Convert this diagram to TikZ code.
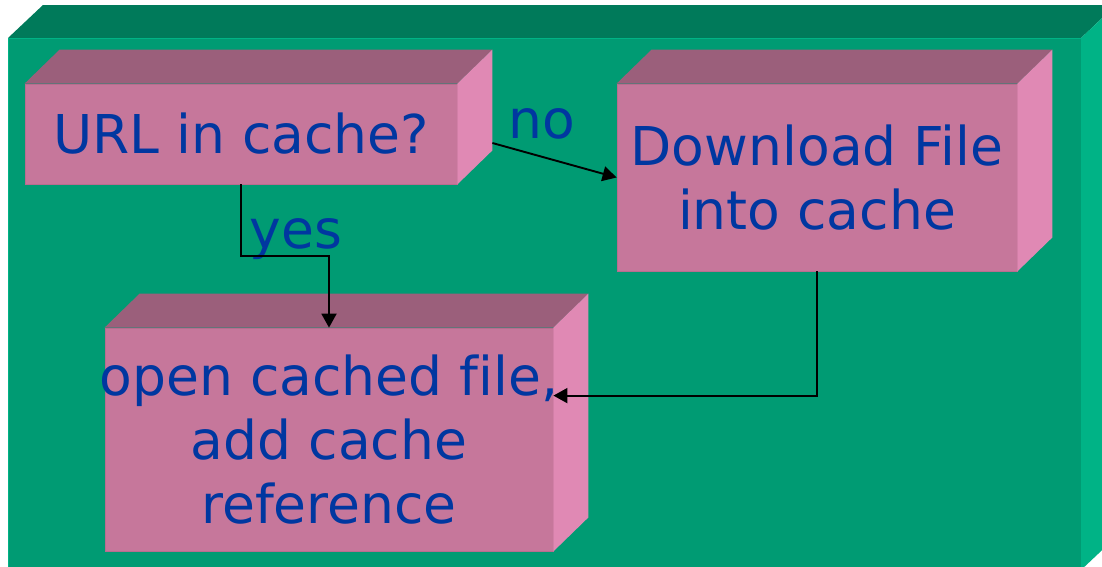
\documentclass[tikz,border=0pt]{standalone}
\usepackage{fontspec}
\setmainfont[Ligatures=CommonOff]{DejaVu Sans}
\usetikzlibrary{arrows.meta}
\definecolor{gtop}{HTML}{007A5A}
\definecolor{gfront}{HTML}{009B73}
\definecolor{gside}{HTML}{00B386}
\definecolor{ptop}{HTML}{9B5F7B}
\definecolor{pfront}{HTML}{C6779B}
\definecolor{pside}{HTML}{E089B4}
\definecolor{pedge}{HTML}{B86D8F}
\definecolor{tblue}{HTML}{0037A0}
\tikzset{
  boxfront/.style={fill=pfront, draw=pedge, line width=0.8pt, inner sep=0pt, rectangle},
  boxtop/.style={fill=ptop},
  boxside/.style={fill=pside},
  lbl/.style={text=tblue, font=\fontsize{53.5}{64}\selectfont, align=center, inner sep=0pt},
  conn/.style={line width=1.9pt, -{Triangle[length=14pt,width=15pt]}},
}
\begin{document}
\begin{tikzpicture}[x=1pt,y=-1pt]
\useasboundingbox (0,0) rectangle (1102,566);
\fill[white] (0,0) rectangle (1102,566);
% outer green cuboid
\fill[gfront] (8,38) rectangle (1081,570);
\fill[gtop] (8,38) -- (43,5) -- (1116,5) -- (1081,38) -- cycle;
\fill[gside] (1081,38) -- (1116,5) -- (1116,537) -- (1081,570) -- cycle;
\draw[gside, line width=1pt] (8.5,38) -- (8.5,570);
\draw[gside, line width=1pt] (8,38.5) -- (1081,38.5);
% pink boxes (front faces)
\node[boxfront, minimum width=432pt, minimum height=100pt] (b1) at (241,134) {};
\node[boxfront, minimum width=400pt, minimum height=187pt] (b2) at (817,177.5) {};
\node[boxfront, minimum width=448pt, minimum height=223pt] (b3) at (329,439.5) {};
\foreach \b in {b1,b2,b3}{
  \fill[boxtop] (\b.north west) -- ++(35,-34) -- ([shift={(35,-34)}]\b.north east) -- (\b.north east) -- cycle;
  \fill[boxside] (\b.north east) -- ++(35,-34) -- ([shift={(35,-34)}]\b.south east) -- (\b.south east) -- cycle;
}
% labels
\node[lbl] (t1) at (b1.center) {URL in cache?};
\node[lbl] (t2) at (b2.center) {Download File\\into cache};
\node[lbl] (t3) at (b3.center) {open cached file,\\add cache\\reference};
\node[lbl, anchor=base] (no) at (542,138) {no};
\node[lbl, anchor=base] (yes) at (296,248) {yes};
% connectors
\coordinate (s1) at ([shift={(35,9)}]b1.east);
\draw[conn] (s1) -- (b2.west);
\draw[conn] (b1.south) -- ++(0,72) -| (b3.north);
\draw[conn] (b2.south) |- ([yshift=-68pt]b3.north east);
\end{tikzpicture}
\end{document}
